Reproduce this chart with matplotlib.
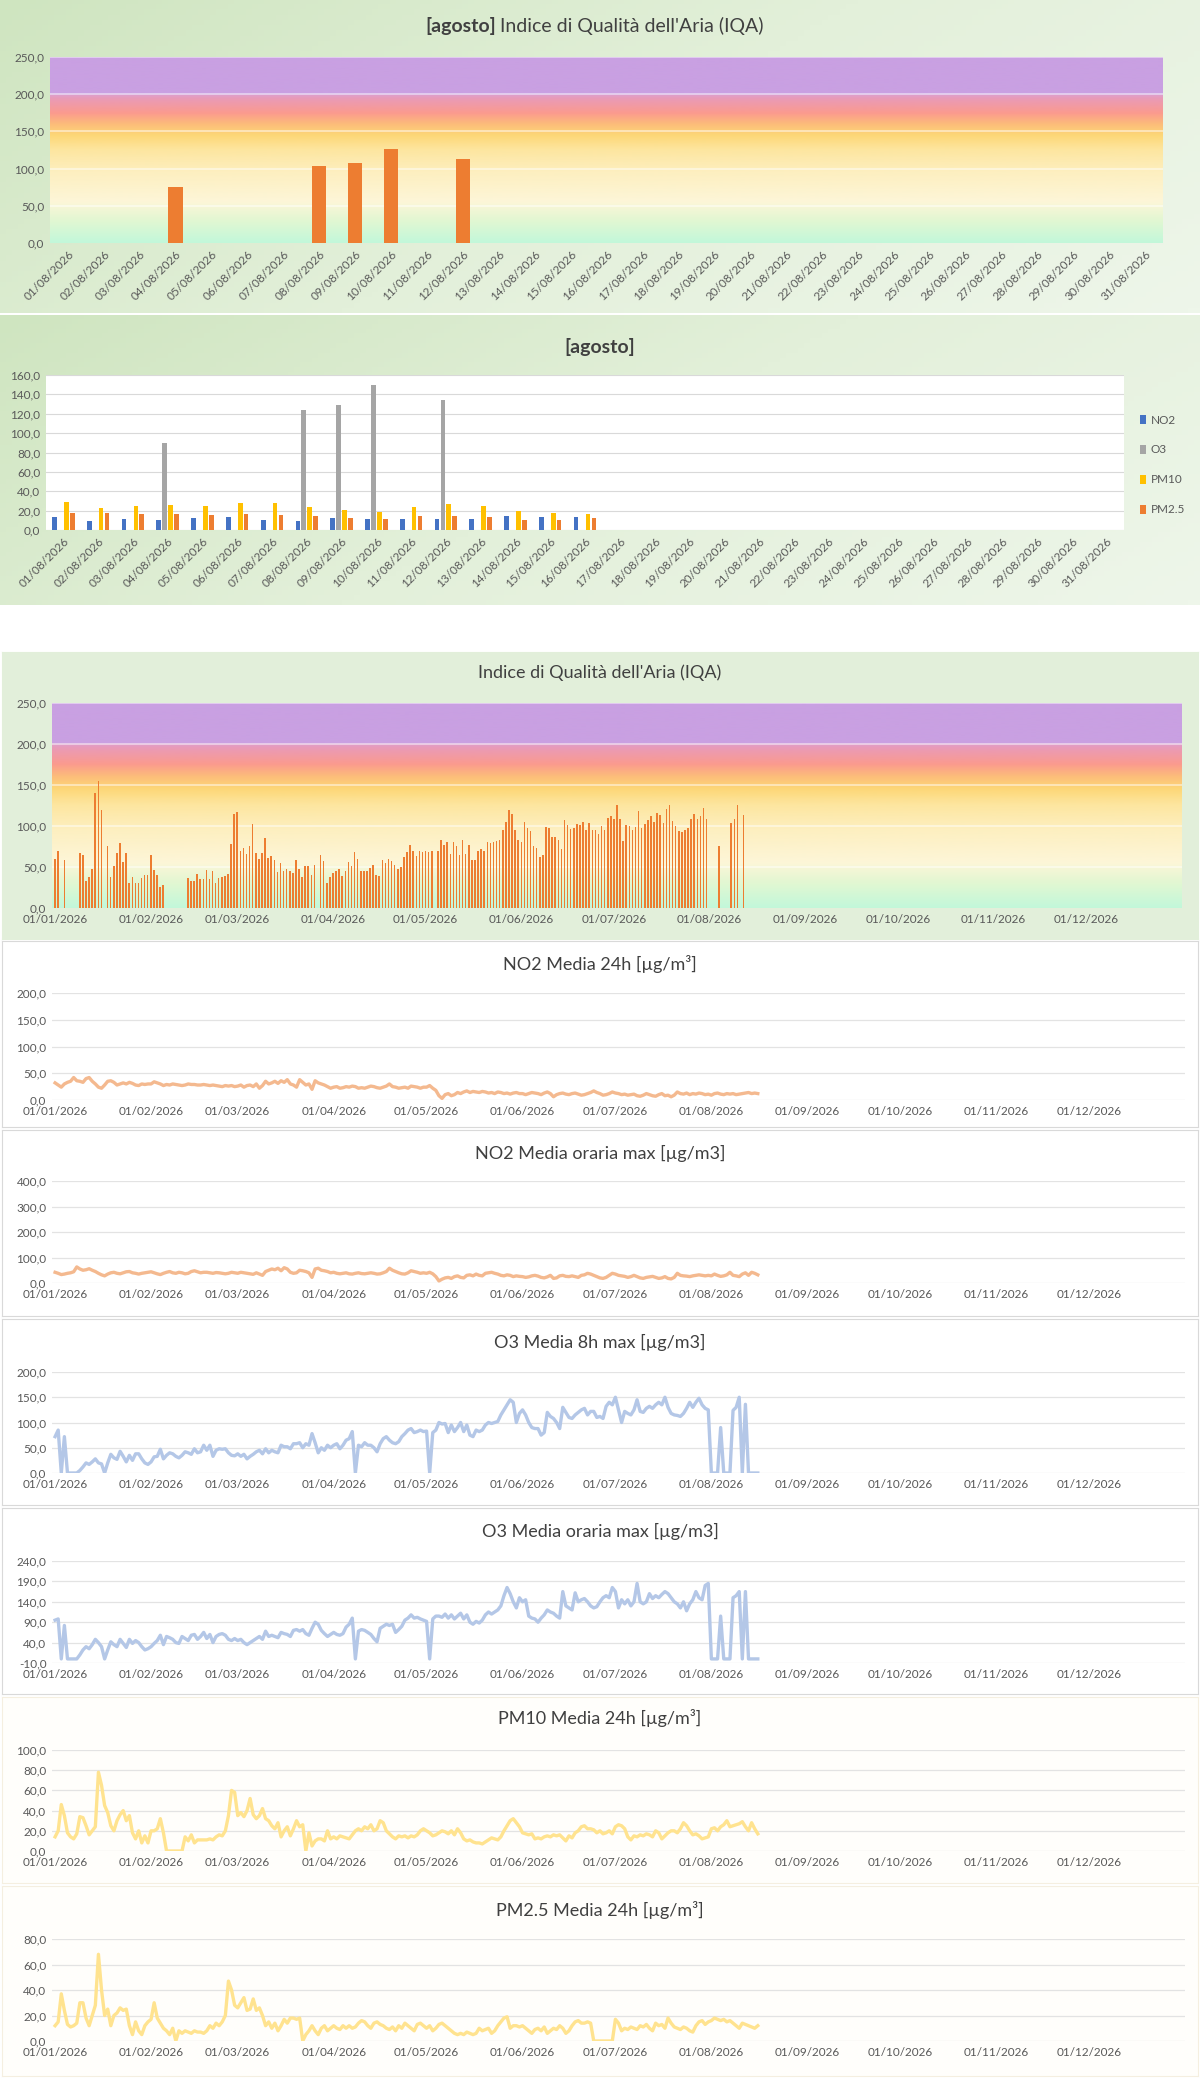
"""
Air quality dashboard - August 2026 and year-to-date charts
"""
import datetime as dt
import numpy as np
import matplotlib
matplotlib.use('Agg')
import matplotlib.pyplot as plt
import matplotlib.dates as mdates
from matplotlib.colors import LinearSegmentedColormap
from matplotlib.ticker import FuncFormatter, FixedLocator

plt.rcParams['font.family'] = ['Lato', 'DejaVu Sans']

W, H = 1200, 2078
nan = np.nan

# ---------------- data: August ----------------
aug_days = [f"{d:02d}/08/2026" for d in range(1, 32)]
aug_iqa = [nan, nan, nan, 75, nan, nan, nan, 104, 108, 126, nan, 113, nan, nan, nan, nan]
aug_no2 = [13, 9, 11, 10, 12, 13, 10, 9, 12, 11, 11, 11, 11, 14, 13, 13]
aug_o3 = [nan, nan, nan, 90, nan, nan, nan, 124, 129, 150, nan, 134, nan, nan, nan, nan]
aug_pm10 = [29, 23, 25, 26, 25, 28, 28, 24, 21, 19, 24, 27, 25, 20, 18, 17]
aug_pm25 = [18, 18, 17, 17, 16, 17, 16, 14, 12, 11, 14, 14, 13, 10, 10, 12]

# ---------------- data: year (one list per month, Jan..Aug) ----------------
iqa_year = [
    [60, 70, nan, 58, nan, nan, nan, nan, 67, 65, 33, 38, 47, 140, 155, 120, nan, 76, 38, 51, 67, 79, 56, 67, 30, 38, 31, 31, 37, 40, 40],
    [65, 46, 40, 26, 28, nan, nan, nan, nan, nan, nan, nan, 36, 33, 33, 41, 35, 35, 46, 35, 45, 31, 36, 38, 39, 42, 78, 115],
    [117, 70, 73, 66, 76, 103, 67, 60, 67, 85, 61, 63, 59, 44, 55, 45, 47, 45, 43, 59, 47, 38, 51, 51, 40, 52, nan, 65, 57, 31, 38],
    [43, 45, 47, 39, 45, 56, 51, 68, 60, 45, 45, 45, 49, 53, 40, 39, 58, 55, 60, 57, 53, 47, 50, 62, 68, 77, 70, 64, 70, 68],
    [70, 68, 69, nan, 69, 83, 77, 80, 66, 80, 76, 65, 83, 66, 77, 59, 58, 70, 72, 69, 81, 79, 80, 82, 83, 95, 105, 120, 115, 95, 83],
    [80, 105, 97, 94, 76, 73, 62, 65, 99, 97, 87, 87, 83, 72, 107, 101, 96, 97, 102, 101, 105, 95, 104, 95, 95, 90, 100, 95, 110, 112],
    [108, 125, 108, 82, 101, 100, 95, 99, 118, 98, 103, 107, 112, 105, 116, 113, 104, 121, 125, 106, 100, 94, 93, 95, 98, 108, 115, 108, 112, 122, 108],
    aug_iqa,
]
no2_24h = [
    [32, 28, 24, 30, 33, 35, 42, 36, 35, 33, 40, 42, 35, 30, 24, 22, 28, 35, 36, 33, 28, 30, 32, 30, 33, 31, 28, 27, 30, 29, 30],
    [30, 34, 32, 30, 27, 29, 28, 30, 29, 28, 27, 28, 30, 29, 29, 28, 28, 29, 28, 27, 28, 27, 26, 25, 27, 26, 27, 25],
    [26, 28, 24, 27, 28, 25, 30, 22, 27, 35, 30, 32, 35, 31, 36, 33, 38, 30, 28, 24, 38, 33, 28, 30, 20, 36, 32, 30, 28, 25, 22],
    [24, 25, 22, 23, 25, 24, 26, 25, 22, 23, 22, 24, 26, 25, 23, 22, 24, 26, 30, 25, 24, 22, 23, 24, 22, 26, 25, 24, 22, 24],
    [24, 27, 22, 18, 8, 3, 10, 12, 8, 10, 14, 12, 15, 17, 14, 16, 15, 14, 16, 15, 13, 14, 12, 15, 14, 12, 13, 11, 13, 14, 12],
    [12, 10, 12, 14, 13, 12, 10, 13, 15, 12, 6, 10, 12, 13, 11, 10, 12, 13, 11, 9, 10, 12, 14, 17, 14, 12, 9, 10, 12, 15],
    [13, 12, 10, 11, 9, 10, 11, 8, 7, 9, 12, 10, 8, 7, 10, 12, 8, 9, 6, 9, 15, 12, 11, 13, 10, 12, 11, 13, 12, 10, 11],
    [9, 12, 13, 11, 10, 12, 11, 12, 10, 11, 12, 13, 14, 12, 13, 12],
]
no2_max = [
    [42, 38, 33, 35, 38, 40, 44, 63, 55, 50, 52, 56, 50, 45, 38, 32, 28, 35, 40, 42, 38, 36, 40, 44, 45, 40, 38, 35, 38, 40, 42],
    [44, 40, 36, 33, 38, 42, 45, 40, 38, 42, 40, 36, 38, 45, 48, 44, 40, 42, 42, 40, 38, 41, 40, 38, 36, 38, 42, 40],
    [38, 42, 40, 38, 36, 34, 40, 35, 30, 45, 50, 55, 52, 58, 48, 60, 55, 42, 38, 40, 50, 48, 45, 40, 22, 55, 58, 50, 48, 45, 40],
    [42, 38, 36, 38, 40, 36, 35, 38, 40, 37, 36, 38, 40, 38, 35, 36, 40, 45, 58, 50, 45, 40, 36, 35, 40, 48, 45, 42, 38, 40],
    [38, 42, 36, 25, 8, 15, 20, 22, 18, 25, 28, 22, 20, 30, 32, 28, 35, 30, 28, 38, 40, 42, 38, 35, 30, 28, 32, 30, 25, 28, 26],
    [25, 22, 24, 28, 30, 27, 22, 20, 24, 30, 18, 20, 28, 30, 26, 25, 28, 25, 22, 30, 32, 38, 35, 30, 25, 20, 18, 22, 30, 38],
    [35, 30, 28, 26, 22, 25, 30, 25, 20, 18, 22, 24, 26, 22, 18, 20, 25, 18, 16, 22, 38, 30, 28, 27, 25, 28, 30, 32, 30, 28, 30],
    [28, 35, 30, 26, 28, 32, 42, 30, 28, 25, 35, 40, 30, 42, 38, 32],
]
o3_8h = [
    [72, 85, 0, 72, 0, 0, 0, 0, 5, 12, 20, 17, 22, 28, 20, 18, 0, 20, 37, 30, 27, 43, 33, 22, 35, 25, 38, 38, 28, 20, 17],
    [22, 32, 33, 47, 28, 35, 40, 38, 33, 30, 35, 42, 40, 37, 48, 40, 42, 55, 45, 55, 33, 45, 48, 47, 48, 40, 35, 34],
    [38, 33, 37, 28, 33, 37, 42, 45, 38, 48, 40, 45, 42, 40, 55, 52, 52, 48, 58, 58, 60, 50, 58, 55, 78, 60, 40, 50, 45, 55, 50],
    [55, 58, 48, 55, 65, 68, 82, 0, 55, 52, 60, 55, 55, 50, 42, 58, 68, 72, 65, 60, 58, 62, 72, 78, 85, 88, 80, 82, 85, 82],
    [83, 0, 80, 85, 100, 97, 98, 80, 95, 82, 90, 100, 82, 95, 75, 72, 85, 82, 85, 95, 100, 98, 100, 102, 115, 125, 135, 145, 140, 100, 118],
    [125, 115, 100, 90, 88, 88, 75, 80, 120, 112, 108, 100, 88, 130, 120, 110, 108, 115, 120, 125, 128, 115, 122, 122, 110, 112, 108, 132, 140, 135],
    [150, 125, 100, 122, 118, 115, 125, 145, 122, 120, 128, 132, 128, 135, 140, 135, 150, 130, 118, 115, 114, 112, 118, 128, 140, 130, 140, 148, 135, 128, 125],
    [0, 0, 0, 90, 0, 0, 0, 124, 130, 150, 0, 136, 0, 0, 0, 0],
]
o3_max = [
    [95, 98, 0, 82, 0, 0, 0, 0, 10, 22, 30, 25, 35, 48, 40, 30, 0, 22, 42, 35, 30, 48, 38, 28, 48, 38, 45, 40, 30, 22, 25],
    [30, 38, 45, 58, 35, 55, 52, 48, 40, 38, 55, 50, 45, 58, 60, 48, 55, 65, 50, 60, 40, 55, 60, 62, 58, 48, 45, 50],
    [45, 48, 40, 35, 40, 45, 50, 55, 48, 68, 55, 58, 55, 52, 65, 62, 60, 55, 70, 72, 68, 72, 62, 58, 75, 90, 85, 70, 62, 55, 60],
    [65, 60, 58, 62, 78, 85, 100, 0, 68, 72, 70, 65, 60, 50, 42, 75, 80, 85, 82, 85, 65, 72, 80, 95, 100, 108, 100, 102, 98, 95],
    [92, 0, 98, 105, 105, 102, 110, 100, 108, 98, 105, 112, 98, 108, 90, 85, 92, 88, 95, 108, 115, 110, 115, 120, 130, 155, 175, 160, 140, 125, 150],
    [140, 145, 105, 100, 98, 90, 100, 108, 120, 115, 112, 105, 100, 165, 130, 125, 120, 162, 140, 145, 148, 140, 130, 125, 128, 140, 150, 155, 150, 175],
    [165, 125, 145, 135, 145, 130, 140, 185, 140, 135, 140, 160, 148, 155, 150, 158, 165, 160, 150, 140, 135, 125, 140, 118, 135, 145, 165, 150, 145, 180, 185],
    [0, 0, 0, 105, 0, 0, 0, 150, 155, 165, 0, 165, 0, 0, 0, 0],
]
pm10_24h = [
    [14, 20, 46, 35, 18, 14, 12, 17, 34, 33, 25, 16, 20, 24, 78, 65, 45, 38, 25, 20, 30, 36, 40, 30, 35, 18, 12, 20, 8, 15, 8],
    [20, 20, 22, 32, 18, 0, 0, 0, 0, 0, 0, 14, 10, 16, 8, 11, 11, 11, 11, 12, 11, 14, 16, 15, 20, 35, 60, 58],
    [35, 38, 34, 40, 52, 36, 32, 35, 42, 32, 30, 25, 22, 28, 14, 20, 24, 15, 22, 30, 24, 26, 0, 18, 5, 10, 12, 12, 10, 20, 12],
    [14, 12, 15, 14, 13, 12, 16, 20, 22, 20, 24, 22, 26, 20, 22, 30, 28, 20, 17, 14, 12, 15, 14, 15, 13, 15, 14, 16, 20, 22],
    [20, 18, 15, 16, 18, 20, 19, 17, 20, 16, 22, 18, 12, 10, 11, 9, 8, 8, 7, 9, 11, 13, 12, 11, 14, 20, 25, 30, 32, 28, 24],
    [18, 17, 16, 17, 12, 13, 12, 14, 15, 14, 16, 15, 16, 13, 10, 15, 13, 18, 20, 24, 25, 22, 22, 21, 18, 20, 17, 18, 20, 17],
    [24, 26, 25, 22, 14, 11, 15, 14, 16, 15, 17, 16, 14, 20, 18, 12, 15, 18, 20, 20, 18, 22, 28, 25, 20, 16, 17, 15, 12, 13, 14],
    [22, 23, 20, 24, 26, 30, 24, 25, 26, 27, 29, 24, 20, 28, 22, 17],
]
pm25_24h = [
    [12, 15, 37, 24, 13, 11, 12, 14, 30, 30, 18, 12, 20, 28, 68, 40, 20, 25, 12, 20, 22, 26, 24, 25, 12, 5, 15, 8, 5, 12, 15],
    [17, 30, 18, 14, 10, 8, 5, 10, 0, 8, 6, 8, 7, 6, 8, 7, 7, 6, 8, 12, 10, 14, 12, 15, 20, 47, 40, 28],
    [26, 30, 34, 24, 25, 33, 24, 26, 20, 12, 15, 10, 14, 8, 12, 17, 14, 18, 18, 17, 18, 0, 5, 8, 12, 8, 5, 10, 12, 8, 10],
    [12, 10, 9, 12, 10, 12, 10, 11, 14, 16, 15, 12, 10, 14, 15, 13, 12, 10, 9, 11, 8, 12, 10, 14, 12, 10, 8, 13, 14, 12],
    [10, 12, 8, 10, 13, 14, 12, 10, 8, 6, 5, 6, 5, 7, 6, 5, 6, 10, 8, 9, 10, 6, 8, 12, 15, 18, 19, 10, 12, 12, 11],
    [12, 10, 8, 6, 9, 10, 8, 11, 6, 8, 10, 9, 12, 10, 6, 8, 12, 15, 16, 14, 14, 15, 14, 0, 0, 0, 0, 0, 0, 0],
    [17, 14, 8, 10, 9, 11, 10, 9, 12, 11, 13, 10, 8, 14, 12, 13, 10, 18, 14, 11, 10, 9, 11, 10, 8, 7, 12, 15, 16, 13, 15],
    [16, 18, 17, 16, 17, 15, 16, 14, 12, 10, 14, 13, 12, 11, 10, 12],
]

# colours
C_BAR = '#ed7d31'
C_NO2, C_O3, C_PM10, C_PM25 = '#4472c4', '#a5a5a5', '#ffc000', '#ed7d31'
TXT = '#595959'


def month_series(months):
    """Turn per-month lists into (dates, values) arrays."""
    xs, ys = [], []
    for m, vals in enumerate(months, start=1):
        for i, v in enumerate(vals):
            xs.append(mdates.date2num(dt.date(2026, m, 1) + dt.timedelta(days=i)))
            ys.append(v)
    return np.array(xs), np.array(ys, dtype=float)


def rect(x0, y0, x1, y1):
    return [x0 / W, 1 - y1 / H, (x1 - x0) / W, (y1 - y0) / H]


def comma(v, _):
    return f'{v:.1f}'.replace('.', ',')


fig = plt.figure(figsize=(W / 100, H / 100), dpi=100, facecolor='white')

# ---------------- panel backgrounds ----------------
green_cm = LinearSegmentedColormap.from_list('g', ['#cfe5c0', '#e3f0da', '#eef6ea'])


def green_panel(y0, y1):
    bg = fig.add_axes(rect(0, y0, W, y1), zorder=-5)
    g = np.linspace(0, 1, 200)[None, :] * 0.7 + np.linspace(0, 1, 60)[:, None] * 0.3
    bg.imshow(g, cmap=green_cm, aspect='auto', extent=(0, 1, 0, 1))
    bg.set_xlim(0, 1); bg.set_ylim(0, 1)
    bg.axis('off')


def flat_panel(y0, y1, color, edge='#d9d9d9'):
    bg = fig.add_axes(rect(2, y0, W - 2, y1), zorder=-5)
    bg.set_facecolor(color)
    bg.set_xticks([]); bg.set_yticks([])
    for s in bg.spines.values():
        s.set_color(edge)


green_panel(0, 313)
green_panel(315, 605)
flat_panel(652, 939, '#e2efda', '#e2efda')
for y0, y1 in [(941, 1127), (1130, 1316), (1319, 1505), (1508, 1694)]:
    flat_panel(y0, y1, 'white')
for y0, y1 in [(1697, 1883), (1886, 2076)]:
    flat_panel(y0, y1, '#fffefb', '#f5efe0')

# IQA colour band
iqa_cm = LinearSegmentedColormap.from_list('iqa', [
    (0.0, '#c2f8da'), (0.12, '#e2f7d2'), (0.22, '#fdf6d8'), (0.38, '#fdefc0'),
    (0.5, '#fde6a0'), (0.58, '#fdd777'), (0.64, '#fcbd7a'), (0.7, '#fb9a8e'),
    (0.78, '#e99ab8'), (0.799, '#dea0cc'), (0.801, '#c9a0e2'), (1.0, '#c9a0e2')])


def iqa_background(ax, x0, x1):
    grad = np.linspace(0, 1, 500)[:, None]
    ax.imshow(grad, cmap=iqa_cm, aspect='auto', origin='lower',
              extent=(x0, x1, 0, 250), zorder=0)
    for v in [50, 100, 150, 200, 250]:
        ax.axhline(v, color='white', lw=1.2, alpha=0.55, zorder=1)


def style_axes(ax, ylim, step, fs=8.5):
    ax.set_ylim(*ylim)
    ax.yaxis.set_major_locator(FixedLocator(np.arange(ylim[0], ylim[1] + 0.1, step)))
    ax.yaxis.set_major_formatter(FuncFormatter(comma))
    for s in ax.spines.values():
        s.set_visible(False)
    ax.tick_params(axis='both', length=0, labelsize=fs, colors=TXT, pad=4)


# ---------------- panel 1: August IQA ----------------
ax1 = fig.add_axes(rect(50, 57, 1163, 243))
xi = np.arange(len(aug_days))
iqa_background(ax1, -0.5, len(aug_days) - 0.5)
ax1.bar(xi[:len(aug_iqa)], aug_iqa, width=0.4, color=C_BAR, zorder=3)
ax1.set_xlim(-0.5, len(aug_days) - 0.5)
style_axes(ax1, (0, 250), 50)
ax1.set_xticks(xi)
ax1.set_xticklabels(aug_days, rotation=45, ha='right', rotation_mode='anchor')
fig.text(496 / W, 1 - 26 / H, '[agosto]', ha='right', va='center', fontsize=14,
         fontweight='bold', color='#404040')
fig.text(500 / W, 1 - 26 / H, "Indice di Qualità dell'Aria (IQA)", ha='left',
         va='center', fontsize=14, color='#404040')

# ---------------- panel 2: August pollutants ----------------
ax2 = fig.add_axes(rect(46, 375, 1124, 530))
ax2.set_facecolor('white')
n = len(aug_no2)
bw = 0.17
for k, (vals, col, lab) in enumerate([(aug_no2, C_NO2, 'NO2'), (aug_o3, C_O3, 'O3'),
                                       (aug_pm10, C_PM10, 'PM10'), (aug_pm25, C_PM25, 'PM2.5')]):
    ax2.bar(np.arange(n) + (k - 1.5) * bw, vals, width=bw * 0.8, color=col, label=lab, zorder=3)
ax2.set_xlim(-0.5, len(aug_days) - 0.5)
style_axes(ax2, (0, 160), 20)
ax2.grid(axis='y', color='#d9d9d9', lw=0.8, zorder=0)
ax2.set_xticks(xi)
ax2.set_xticklabels(aug_days, rotation=45, ha='right', rotation_mode='anchor')
ax2.legend(loc='center left', bbox_to_anchor=(1.005, 0.42), frameon=False, fontsize=8.5,
           handlelength=0.5, handleheight=0.8, labelspacing=1.6, handletextpad=0.4,
           labelcolor=TXT)
fig.text(0.5, 1 - 347 / H, '[agosto]', ha='center', va='center', fontsize=14,
         fontweight='bold', color='#404040')

# ---------------- year charts ----------------
x_start = mdates.date2num(dt.date(2026, 1, 1))
x_end = mdates.date2num(dt.date(2026, 12, 31)) + 1
month_ticks = [mdates.date2num(dt.date(2026, m, 1)) for m in range(1, 13)]
month_labels = [f'01/{m:02d}/2026' for m in range(1, 13)]


def year_axis(ax):
    ax.set_xlim(x_start - 1, x_end)
    ax.set_xticks(month_ticks)
    ax.set_xticklabels(month_labels)


ax3 = fig.add_axes(rect(52, 703, 1182, 908))
iqa_background(ax3, x_start - 1, x_end)
xs, ys = month_series(iqa_year)
ax3.bar(xs, ys, width=0.5, color=C_BAR, zorder=3)
style_axes(ax3, (0, 250), 50)
year_axis(ax3)
fig.text(0.5, 1 - 673 / H, "Indice di Qualità dell'Aria (IQA)", ha='center',
         va='center', fontsize=13, color='#404040')

line_panels = [
    (no2_24h, '#f4b98f', 'NO2 Media 24h [µg/m³]', (0, 200), 50, 964, 993, 1100),
    (no2_max, '#f4b98f', 'NO2 Media oraria max [µg/m3]', (0, 400), 100, 1153, 1181, 1283),
    (o3_8h, '#b4c7e7', 'O3 Media 8h max [µg/m3]', (0, 200), 50, 1342, 1372, 1473),
    (o3_max, '#b4c7e7', 'O3 Media oraria max [µg/m3]', (-10, 240), 50, 1531, 1561, 1663),
    (pm10_24h, '#ffe38f', 'PM10 Media 24h [µg/m³]', (0, 100), 20, 1718, 1750, 1851),
    (pm25_24h, '#ffe38f', 'PM2.5 Media 24h [µg/m³]', (0, 80), 20, 1910, 1939, 2041),
]
for series, col, title, ylim, step, ty, top, bot in line_panels:
    ax = fig.add_axes(rect(52, top, 1185, bot))
    ax.set_facecolor('none')
    xs, ys = month_series(series)
    ax.plot(xs, ys, color=col, lw=2.4, zorder=3, solid_joinstyle='round')
    style_axes(ax, ylim, step)
    ax.grid(axis='y', color='#e3e3e3', lw=0.9, zorder=0)
    year_axis(ax)
    fig.text(0.5, 1 - ty / H, title, ha='center', va='center', fontsize=13, color='#404040')

fig.savefig('out.png', dpi=100, facecolor='white')
plt.close(fig)
